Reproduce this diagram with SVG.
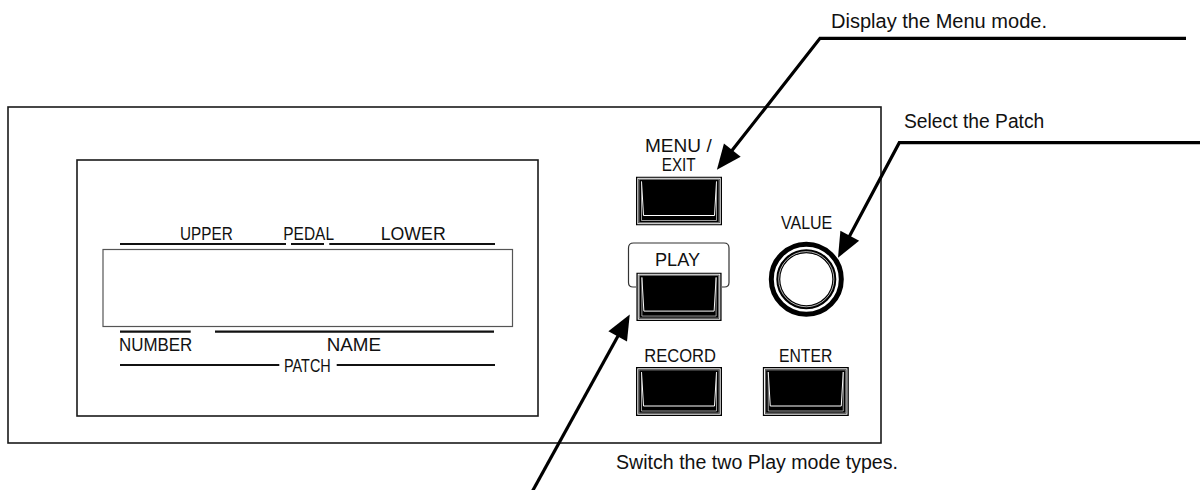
<svg xmlns="http://www.w3.org/2000/svg" xmlns:xlink="http://www.w3.org/1999/xlink" width="1200" height="490" viewBox="0 0 1200 490">
<style>
.panel{fill:#fff;stroke:#1a1a1a;stroke-width:1.6}
.lbl{font-family:"Liberation Sans",Arial,sans-serif;font-size:19px;fill:#111}
.note{font-family:"Liberation Sans",Arial,sans-serif;font-size:20px;fill:#111}
.rule{stroke:#111;stroke-width:2.2;fill:none}
.lead{stroke:#000;stroke-width:3.2;fill:none;stroke-linejoin:miter}
</style>
<defs>
<marker id="ah" markerUnits="userSpaceOnUse" markerWidth="30" markerHeight="30" viewBox="-4 -10 24 20" refX="0" refY="0" orient="auto">
<path d="M-3,-8.5 L17,0 L-3,8.5 Z" fill="#000"/>
</marker>
<symbol id="key" viewBox="0 0 86 49">
<rect x="0.5" y="0.5" width="85" height="48" fill="#000" stroke="#000"/>
<rect x="1.8" y="1.8" width="82.4" height="45.4" fill="none" stroke="#fff" stroke-width="1"/>
<rect x="3" y="3" width="80" height="43" fill="none" stroke="#999" stroke-width="0.7"/>
<path d="M5.5,5 L7.5,39 H78.5 L80.5,5" fill="none" stroke="#fff" stroke-width="1"/>
<path d="M5.5,5 V44 H80.5 V5" fill="none" stroke="#ddd" stroke-width="0.7"/>
</symbol>
</defs>

<g id="panel">
<rect class="panel" x="8" y="107" width="873" height="336"/>
</g>

<g id="display">
<rect class="panel" x="77" y="160" width="461" height="256"/>
<rect x="103" y="249.5" width="409.5" height="77" fill="#fff" stroke="#555" stroke-width="1.2"/>
<text class="lbl" x="180" y="239.5" textLength="52.7" lengthAdjust="spacingAndGlyphs">UPPER</text>
<text class="lbl" x="283.3" y="239.5" textLength="50.7" lengthAdjust="spacingAndGlyphs">PEDAL</text>
<text class="lbl" x="380.7" y="239.5" textLength="65" lengthAdjust="spacingAndGlyphs">LOWER</text>
<path class="rule" d="M120,244 H286 M291,244 H324 M329.3,244 H495"/>
<path class="rule" d="M120,331.7 H190.7 M215,331.7 H494"/>
<text class="lbl" x="119" y="351" textLength="73.3" lengthAdjust="spacingAndGlyphs">NUMBER</text>
<text class="lbl" x="326.7" y="351" textLength="54.3" lengthAdjust="spacingAndGlyphs">NAME</text>
<path class="rule" d="M120,365 H279.3 M336.7,365 H495"/>
<text class="lbl" x="284" y="371.5" font-size="17.5" textLength="46.7" lengthAdjust="spacingAndGlyphs">PATCH</text>
</g>

<g id="menu-exit">
<text class="lbl" x="645" y="152" textLength="66.7" lengthAdjust="spacingAndGlyphs">MENU /</text>
<text class="lbl" x="661.7" y="171" textLength="34" lengthAdjust="spacingAndGlyphs">EXIT</text>
<use href="#key" xlink:href="#key" x="636" y="176.5" width="86" height="49"/>
</g>

<g id="play">
<path d="M636,287 H633 Q628.5,287 628.5,282.5 V248 Q628.5,243 633.5,243 H724 Q729,243 729,248 V282.5 Q729,287 724.5,287 H722" fill="none" stroke="#333" stroke-width="1.2"/>
<text class="lbl" x="655" y="266" textLength="45" lengthAdjust="spacingAndGlyphs">PLAY</text>
<use href="#key" xlink:href="#key" x="636" y="272.5" width="86" height="48.5"/>
</g>

<g id="record">
<text class="lbl" x="644.3" y="361.7" textLength="71.7" lengthAdjust="spacingAndGlyphs">RECORD</text>
<use href="#key" xlink:href="#key" x="636" y="367" width="86" height="49"/>
</g>

<g id="enter">
<text class="lbl" x="779" y="361.7" textLength="53.3" lengthAdjust="spacingAndGlyphs">ENTER</text>
<use href="#key" xlink:href="#key" x="762.5" y="367" width="86.5" height="49"/>
</g>

<g id="value">
<text class="lbl" x="781" y="229.3" textLength="51.3" lengthAdjust="spacingAndGlyphs">VALUE</text>
<circle cx="806.3" cy="279.2" r="35" fill="#fff" stroke="#000" stroke-width="5"/>
<circle cx="806.3" cy="279.2" r="28" fill="#fff" stroke="#000" stroke-width="4"/>
<circle cx="806.3" cy="279.2" r="27.6" fill="none" stroke="#fff" stroke-width="0.7"/>
</g>

<g id="connectors">
<path class="lead" d="M1186,38.3 H820 L730,153.1" marker-end="url(#ah)"/>
<path class="lead" d="M1200,142.7 H899.3 L848,239" marker-end="url(#ah)"/>
<path class="lead" d="M532,492 L619.5,333.2" marker-end="url(#ah)"/>
</g>

<g id="notes">
<text class="note" x="831" y="28.3" textLength="216" lengthAdjust="spacingAndGlyphs">Display the Menu mode.</text>
<text class="note" x="904" y="128.3" textLength="140.3" lengthAdjust="spacingAndGlyphs">Select the Patch</text>
<text class="note" x="616" y="469" textLength="282" lengthAdjust="spacingAndGlyphs">Switch the two Play mode types.</text>
</g>
</svg>
